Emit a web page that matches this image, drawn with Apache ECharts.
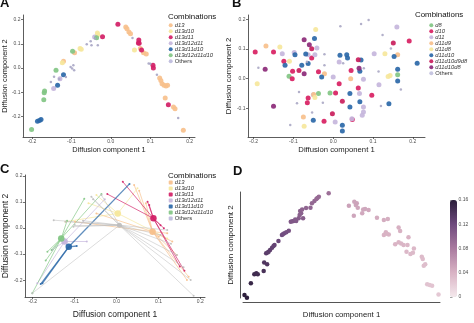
<!DOCTYPE html>
<html><head><meta charset="utf-8">
<script src="https://cdn.jsdelivr.net/npm/echarts@6/dist/echarts.min.js"></script>
<style>html,body{margin:0;padding:0;background:#fff}#c{width:474px;height:323px}</style>
</head><body><div id="c"></div>
<script>
const F = 'Liberation Sans, Arial, Helvetica, sans-serif';
const axisTicks = [-0.2, -0.1, 0, 0.1, 0.2];
const barTicks = [0, 0.04, 0.08, 0.12, 0.16];

// ---------- Panel A ----------
const groupsA = ['d13','d13d10','d13d11','d13d12d11','d13d11d10','d13d12d11d10','Others'];
const colorsA = ['#F7C08C','#F6E79C','#D21F66','#C5B6DC','#2B68A8','#82C684','#BDBBDC'];
const a_d13 = [[0.038,0.169],[0.041,0.162],[0.046,0.148],[0.050,0.141],[0.075,0.080],[0.083,0.063],[0.090,0.058],[0.124,-0.041],[0.127,-0.051],[0.130,-0.065],[0.135,-0.071],[0.140,-0.074],[0.144,-0.071],[0.138,-0.124],[0.159,-0.161],[0.163,-0.168],[0.184,-0.257],[-0.092,0.063],[-0.120,0.028]];
const a_d13d10 = [[-0.123,0.022],[-0.078,0.080],[-0.075,0.077],[-0.034,0.144],[-0.033,0.137],[0.060,0.074]];
const a_d13d11 = [[-0.021,0.129],[0.018,0.180],[0.071,0.115],[0.072,0.102],[0.070,0.103],[0.078,0.074],[0.107,0.011],[0.108,0.000],[0.146,-0.151]];
const a_d13d12d11 = [[-0.145,-0.085],[-0.129,-0.044],[-0.041,0.128]];
const a_d13d11d10 = [[-0.186,-0.220],[-0.181,-0.216],[-0.177,-0.212],[-0.135,-0.071],[-0.120,-0.028]];
const a_d13d12d11d10 = [[-0.201,-0.254],[-0.170,-0.131],[-0.169,-0.102],[-0.168,-0.095],[-0.139,-0.009],[-0.097,0.069],[-0.036,0.125]];
const a_others = [[-0.152,-0.058],[-0.114,-0.037],[-0.144,-0.036],[-0.131,-0.045],[-0.102,0.004],[-0.095,0.011],[-0.093,-0.009],[-0.098,-0.002],[-0.061,0.098],[-0.051,0.110],[-0.049,0.094],[-0.033,0.094],[-0.040,0.122],[0.055,0.124],[0.100,0.018],[0.096,0.019],[0.117,-0.028],[0.171,-0.206]];
const dataA = [a_d13,a_d13d10,a_d13d11,a_d13d12d11,a_d13d11d10,a_d13d12d11d10,a_others];

// ---------- Panel B ----------
const groupsB = ['d8','d10','d11','d11d9','d11d8','d11d10','d11d10d9d8','d11d10d8','Others'];
const colorsB = ['#82C684','#D81F62','#C5B6DC','#F7C08C','#F6E79C','#2B68A8','#C91E5C','#8C2A78','#C2C1DE'];
const b_d8 = [[-0.111,0.008],[-0.037,-0.050],[-0.008,-0.048],[0.162,0.013]];
const b_d10 = [[-0.196,0.090],[-0.150,0.090],[-0.054,0.070],[-0.124,0.059],[-0.102,0.025],[-0.103,0.000],[-0.037,0.023],[0.015,-0.017],[0.006,-0.048],[-0.063,-0.065],[-0.065,-0.081],[0.063,-0.031],[0.097,-0.056],[-0.023,-0.143],[0.048,-0.137],[0.191,0.127],[0.045,0.028]];
const b_d11 = [[-0.128,0.084],[-0.098,0.088],[-0.063,0.081],[-0.046,0.081],[-0.041,0.103],[0.160,0.174],[0.015,0.056],[0.103,0.084],[0.000,0.006],[0.076,-0.002],[0.115,-0.020],[-0.050,-0.054],[0.066,-0.050],[0.076,-0.095],[0.076,-0.112],[0.073,-0.123],[0.005,-0.146],[0.047,-0.135]];
const b_d11d9 = [[-0.169,0.110],[-0.022,0.017],[0.044,0.000],[0.162,0.081],[-0.075,-0.129],[-0.049,-0.053]];
const b_d11d8 = [[-0.044,0.166],[-0.134,0.107],[-0.110,0.059],[0.130,0.084],[0.143,0.011],[0.138,0.007],[-0.191,-0.017],[-0.073,-0.160],[-0.046,-0.063]];
const b_d11d10 = [[-0.047,0.135],[-0.096,0.081],[-0.069,0.083],[-0.121,0.045],[-0.079,0.045],[-0.063,0.051],[0.017,0.079],[0.034,0.081],[0.036,0.070],[0.067,0.025],[0.070,0.063],[0.153,0.075],[0.211,0.052],[0.162,0.032],[0.162,-0.008],[-0.029,0.006],[0.042,-0.050],[0.067,-0.078],[0.042,-0.095],[0.140,-0.084],[-0.050,-0.140],[0.023,-0.157],[0.023,-0.176]];
const b_d11d10d9d8 = [[-0.086,0.028],[0.023,-0.076],[-0.002,-0.118],[0.151,0.120],[-0.054,0.101],[0.063,0.064]];
const b_d11d10d8 = [[-0.171,0.032],[-0.150,-0.093],[-0.073,0.131],[-0.060,0.114],[0.065,0.035],[-0.073,0.017]];
const b_others = [[0.018,0.177],[0.070,0.184],[0.089,0.198],[0.124,0.147],[-0.022,0.082],[-0.066,0.057],[-0.022,0.045],[0.025,0.052],[0.114,0.024],[0.170,-0.036],[0.120,-0.092],[-0.086,-0.045],[-0.108,-0.156],[-0.091,-0.083],[-0.026,-0.081],[-0.053,-0.114],[-0.188,0.037],[0.077,0.035],[0.145,0.102]];
const dataB = [b_d8,b_d10,b_d11,b_d11d9,b_d11d8,b_d11d10,b_d11d10d9d8,b_d11d10d8,b_others];

// ---------- Panel C ----------
const c_centroids = [[0.086,-0.014],[0.003,0.056],[0.088,0.037],[-0.124,-0.052],[-0.114,-0.072],[-0.132,-0.040],[0.007,0.011]];
const c_ends_d13 = [[0.042,0.165],[0.054,0.143],[0.070,0.095],[-0.048,0.056],[-0.099,0.024],[0.121,-0.020],[0.133,-0.052],[0.144,-0.103],[0.172,-0.187],[0.168,-0.199],[0.101,-0.033]];
const c_ends_d13d10 = [[-0.048,0.126],[-0.122,0.024],[0.050,0.152],[0.121,-0.040],[-0.067,0.095]];
const c_ends_d13d11 = [[-0.022,0.130],[0.015,0.177],[0.074,0.101],[0.078,0.088],[0.113,-0.001],[0.105,0.011],[0.151,-0.148],[0.162,-0.164]];
const c_ends_d13d12d11 = [[-0.189,-0.212],[-0.154,-0.084],[-0.028,0.110],[-0.071,-0.052]];
const c_ends_d13d11d10 = [[0.031,0.169],[-0.177,-0.212],[-0.181,-0.215],[-0.095,-0.069]];
const c_ends_d13d12d11d10 = [[-0.036,0.130],[-0.077,0.112],[-0.118,0.028],[-0.165,-0.091],[-0.169,-0.125],[-0.155,-0.084],[-0.201,-0.250]];
const c_ends_others = [[-0.103,0.005],[-0.100,0.012],[-0.056,0.110],[-0.036,0.126],[-0.122,0.024],[-0.201,-0.250],[0.184,-0.260],[0.177,-0.199],[0.144,-0.103],[0.121,-0.008],[0.105,-0.027],[-0.060,0.120],[-0.080,0.028],[0.130,-0.060],[0.160,-0.150],[-0.150,0.030]];
const endsC = [c_ends_d13,c_ends_d13d10,c_ends_d13d11,c_ends_d13d12d11,c_ends_d13d11d10,c_ends_d13d12d11d10,c_ends_others];

// ---------- Panel D ----------  [x, y, value]
const d_points = [[-0.197,-0.286,0.158],[-0.192,-0.299,0.158],[-0.184,-0.231,0.152],[-0.177,-0.188,0.148],[-0.173,-0.183,0.147],[-0.170,-0.188,0.146],[-0.158,-0.173,0.142],[-0.157,-0.132,0.138],[-0.151,-0.141,0.137],[-0.153,-0.089,0.132],[-0.148,-0.082,0.130],[-0.145,-0.074,0.129],[-0.141,-0.063,0.127],[-0.136,-0.050,0.125],[-0.128,-0.031,0.122],[-0.121,-0.003,0.118],[-0.116,0.005,0.116],[-0.112,0.010,0.115],[-0.107,0.017,0.114],[-0.103,0.060,0.108],[-0.097,0.063,0.107],[-0.092,0.063,0.106],[-0.087,0.076,0.104],[-0.085,0.092,0.102],[-0.084,0.110,0.100],[-0.080,0.118,0.099],[-0.078,0.076,0.103],[-0.063,0.126,0.097],[-0.060,0.147,0.095],[-0.055,0.158,0.094],[-0.051,0.167,0.093],[-0.046,0.178,0.092],[-0.026,0.194,0.088],[-0.150,-0.085,0.131],[-0.138,-0.055,0.126],[-0.119,0.001,0.117],[-0.100,0.062,0.108],[-0.072,0.124,0.097],[-0.049,0.172,0.093],[-0.094,0.070,0.105],[-0.082,0.100,0.101],
[0.015,0.135,0.052],[0.026,0.154,0.050],[0.029,0.139,0.050],[0.033,0.126,0.049],[0.042,0.100,0.047],[0.048,0.120,0.048],[0.055,0.115,0.047],[0.025,0.088,0.049],[0.072,0.079,0.045],[0.086,0.068,0.044],[0.094,0.073,0.043],[0.086,-0.003,0.040],[0.090,0.010,0.041],[0.096,0.000,0.040],[0.116,0.032,0.042],[0.119,0.016,0.041],[0.109,-0.047,0.039],[0.116,-0.037,0.039],[0.126,-0.050,0.038],[0.136,-0.014,0.040],[0.134,-0.050,0.037],[0.132,-0.082,0.036],[0.140,-0.092,0.035],[0.147,-0.066,0.036],[0.163,-0.105,0.034],[0.165,-0.116,0.033],[0.167,-0.148,0.032],[0.174,-0.235,0.028],[0.179,-0.239,0.027],[0.184,-0.242,0.027],[0.197,-0.283,0.024],[0.031,0.147,0.051],[0.044,0.118,0.048],[0.092,0.003,0.040],[0.121,-0.043,0.038],[0.145,-0.087,0.035],[0.170,-0.141,0.032]];
const d_colors = ['#f4e8ec','#d9b3c4','#a97a9f','#6e4a7d','#2b1e3a'];

// ---------- helpers ----------
function valAxis(gi, min, max, name, nameGap, nameSize, extra) {
  return Object.assign({
    type:'value', gridIndex:gi, min:min, max:max, scale:true,
    axisLine:{show:true, onZero:false, lineStyle:{color:'#333', width:0.8}},
    axisTick:{show:true, length:2, customValues:axisTicks, lineStyle:{color:'#333', width:0.7}},
    axisLabel:{show:true, customValues:axisTicks, fontSize:5, color:'#4d4d4d', margin:2.5, fontFamily:F, formatter:v=>v.toFixed(1)},
    splitLine:{show:false},
    name:name, nameLocation:'middle', nameGap:nameGap,
    nameTextStyle:{fontSize:nameSize, color:'#1a1a1a', fontFamily:F}
  }, extra || {});
}
function mkLegend(left, top, names, colors, icon) {
  return {
    left:left, top:top, orient:'vertical', itemWidth:4, itemHeight:4, itemGap:0, icon:icon,
    selectedMode:false, padding:0,
    textStyle:{fontSize:5.8, fontStyle:'italic', color:'#333', fontFamily:F, lineHeight:5.6, padding:[0,0,0,-3]},
    data:names.map((n,i)=>({name:n, itemStyle:{color:colors[i]}, textStyle: n==='Others'?{fontStyle:'normal'}:{}}))
  };
}
function ttl(text, left, top, size, weight) {
  return {text:text, left:left, top:top, padding:0,
    textStyle:{fontSize:size, fontWeight:weight, color:'#111', fontFamily:F}};
}

const series = [];
// A
groupsA.forEach((g,i)=>{
  const oth = g==='Others';
  series.push({type:'scatter', name:g, xAxisIndex:0, yAxisIndex:0, data:dataA[i],
    symbolSize: oth?2.5:5, itemStyle:{color: oth?'#A9A7C6':colorsA[i], opacity:0.92}});
});
// B
groupsB.forEach((g,i)=>{
  const oth = g==='Others';
  series.push({type:'scatter', name:g, xAxisIndex:1, yAxisIndex:1, data:dataB[i],
    symbolSize: oth?2.5:5, itemStyle:{color: oth?'#ABA9C6':colorsB[i], opacity:0.92}});
});
// C
groupsA.forEach((g,i)=>{
  const oth = g==='Others';
  const col = oth ? '#BEBEBE' : colorsA[i];
  series.push({type:'lines', name:g, coordinateSystem:'cartesian2d', xAxisIndex:2, yAxisIndex:2,
    silent:true, z:2,
    lineStyle:{color:col, width: g==='d13d11d10'?1.3:0.9, opacity: oth?0.6:0.75},
    data: endsC[i].map(e=>({coords:[c_centroids[i], e]}))});
  series.push({type:'scatter', name:g, xAxisIndex:2, yAxisIndex:2, data:endsC[i], z:3,
    symbolSize:2, itemStyle:{color:col, opacity:0.9}});
});
groupsA.forEach((g,i)=>{
  const oth = g==='Others';
  series.push({type:'scatter', name:g, xAxisIndex:2, yAxisIndex:2, data:[c_centroids[i]], z:4,
    symbolSize: oth?5:6.5, itemStyle:{color: oth?'#BEBEBE':colorsA[i], opacity:0.95}});
});
// D
const dIndex = series.length;
series.push({type:'scatter', name:'pseudotime', xAxisIndex:3, yAxisIndex:3, data:d_points, symbolSize:4.5,
  itemStyle:{opacity:1}});

const option = {
  animation:false,
  backgroundColor:'#fff',
  textStyle:{fontFamily:F},
  title:[
    ttl('A', 0, -3, 13, 'bold'), ttl('B', 232, -3, 13, 'bold'),
    ttl('C', 0, 163, 13, 'bold'), ttl('D', 233, 165, 13, 'bold'),
    ttl('Combinations', 168, 13, 7.9, 'normal'),
    ttl('Combinations', 415, 11, 7.9, 'normal'),
    ttl('Combinations', 168, 171.5, 7.9, 'normal')
  ],
  legend:[
    mkLegend(168.7, 22.2, groupsA, colorsA, 'circle'),
    mkLegend(429.3, 22.2, groupsB, colorsB, 'circle'),
    mkLegend(168.7, 179.5, groupsA, colorsA, 'roundRect')
  ],
  grid:[
    {left:22, top:15, width:173, height:122},
    {left:248, top:15, width:177, height:122},
    {left:22.5, top:175, width:182.5, height:122},
    {left:243, top:192, width:197, height:106},
    {left:450, top:200, width:7, height:97}
  ],
  xAxis:[
    valAxis(0, -0.2227, 0.2136, 'Diffusion component 1', 9, 7.4),
    valAxis(1, -0.2141, 0.2307, 'Diffusion component 1', 9, 7.7),
    valAxis(2, -0.2184, 0.2111, 'Diffusion component 1', 13, 8.5),
    {type:'value', gridIndex:3, min:-0.2, max:0.2, offset:4,
      axisLine:{show:true, onZero:false, lineStyle:{color:'#555', width:1}}, axisTick:{show:false}, axisLabel:{show:false}, splitLine:{show:false},
      name:'Diffusion component 1', nameLocation:'middle', nameGap:9, nameTextStyle:{fontSize:7.8, color:'#1a1a1a', fontFamily:F}},
    {type:'value', gridIndex:4, min:0, max:1, show:false}
  ],
  yAxis:[
    valAxis(0, -0.2845, 0.2186, 'Diffusion component 2', 12.5, 7.4),
    valAxis(1, -0.1963, 0.2145, 'Diffusion component 2', 8.5, 7.7),
    valAxis(2, -0.2644, 0.2031, 'Diffusion component 2', 13, 8.5),
    {type:'value', gridIndex:3, min:-0.3, max:0.2, offset:3,
      axisLine:{show:true, onZero:false, lineStyle:{color:'#555', width:1}}, axisTick:{show:false}, axisLabel:{show:false}, splitLine:{show:false},
      name:'Diffusion component 2', nameLocation:'middle', nameGap:5, nameTextStyle:{fontSize:8, color:'#1a1a1a', fontFamily:F}},
    {type:'value', gridIndex:4, min:0, max:0.16, interval:0.04, position:'right',
      axisLine:{show:false}, axisTick:{show:true, length:2.5, lineStyle:{color:'#666', width:0.6}},
      axisLabel:{fontSize:5, color:'#4d4d4d', margin:1.5, fontFamily:F}, splitLine:{show:false}}
  ],
  visualMap:[{
    type:'continuous', seriesIndex:dIndex, dimension:2, min:0, max:0.16,
    inRange:{color:d_colors}, left:450, top:200, itemWidth:7, itemHeight:97,
    padding:0, calculable:false, hoverLink:false, showLabel:false, orient:'vertical'
  }],
  series:series
};
const chart = echarts.init(document.getElementById('c'), null, {renderer:'canvas'});
chart.setOption(option);
</script></body></html>
